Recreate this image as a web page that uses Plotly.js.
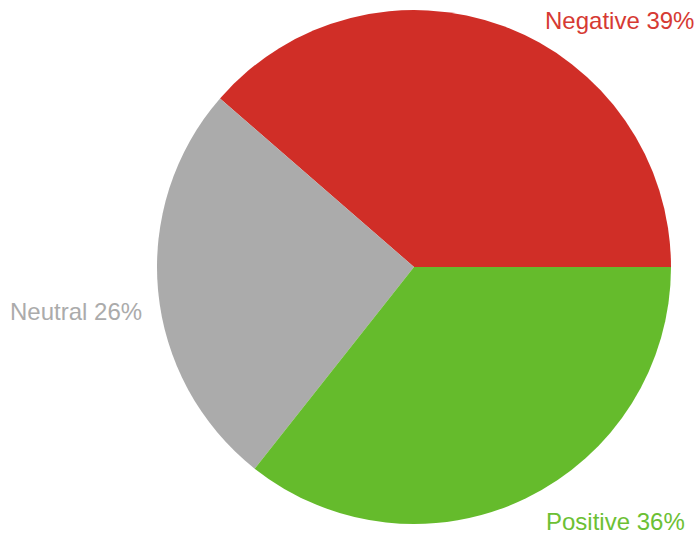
<!DOCTYPE html>
<html>
<head>
<meta charset="utf-8">
<script src="https://cdn.plot.ly/plotly-3.0.1.min.js"></script>
<style>html,body{margin:0;padding:0;background:#fff;}#chart{width:698px;height:535px;}</style>
</head>
<body>
<div id="chart"></div>
<script>
const labels = ["Negative", "Neutral", "Positive"];
const values = [39, 26, 36];
const colors = ["#D02E27", "#ABABAB", "#65BB2C"];
const textColors = ["#D63A33", "#ABABAB", "#6CC034"];
const labelPos = [
  {x: 1.049, y: 0.98, xanchor: "right"},
  {x: -0.29, y: 0.414, xanchor: "left"},
  {x: 0.753, y: 0.004, xanchor: "left"}
];

// first slice starts at 3 o'clock and runs counterclockwise
const total = values.reduce((a, b) => a + b, 0);
const rot = 90 - 360 * values[0] / total;

const trace = {
  type: "pie",
  labels: labels,
  values: values,
  sort: false,
  direction: "counterclockwise",
  rotation: rot,
  marker: {colors: colors, line: {width: 0}},
  textinfo: "none",
  hoverinfo: "label+percent",
  showlegend: false
};

const annotations = labels.map((l, i) => ({
  text: l + " " + values[i] + "%",
  xref: "paper", yref: "paper",
  x: labelPos[i].x, y: labelPos[i].y,
  xanchor: labelPos[i].xanchor, yanchor: "middle",
  showarrow: false,
  font: {family: "Liberation Sans, Arial, sans-serif", size: 24, color: textColors[i]}
}));

const layout = {
  width: 698, height: 535,
  margin: {l: 157, r: 27, t: 10, b: 11},
  paper_bgcolor: "#fff",
  showlegend: false,
  annotations: annotations
};

Plotly.newPlot("chart", [trace], layout, {displayModeBar: false, staticPlot: true});
</script>
</body>
</html>
